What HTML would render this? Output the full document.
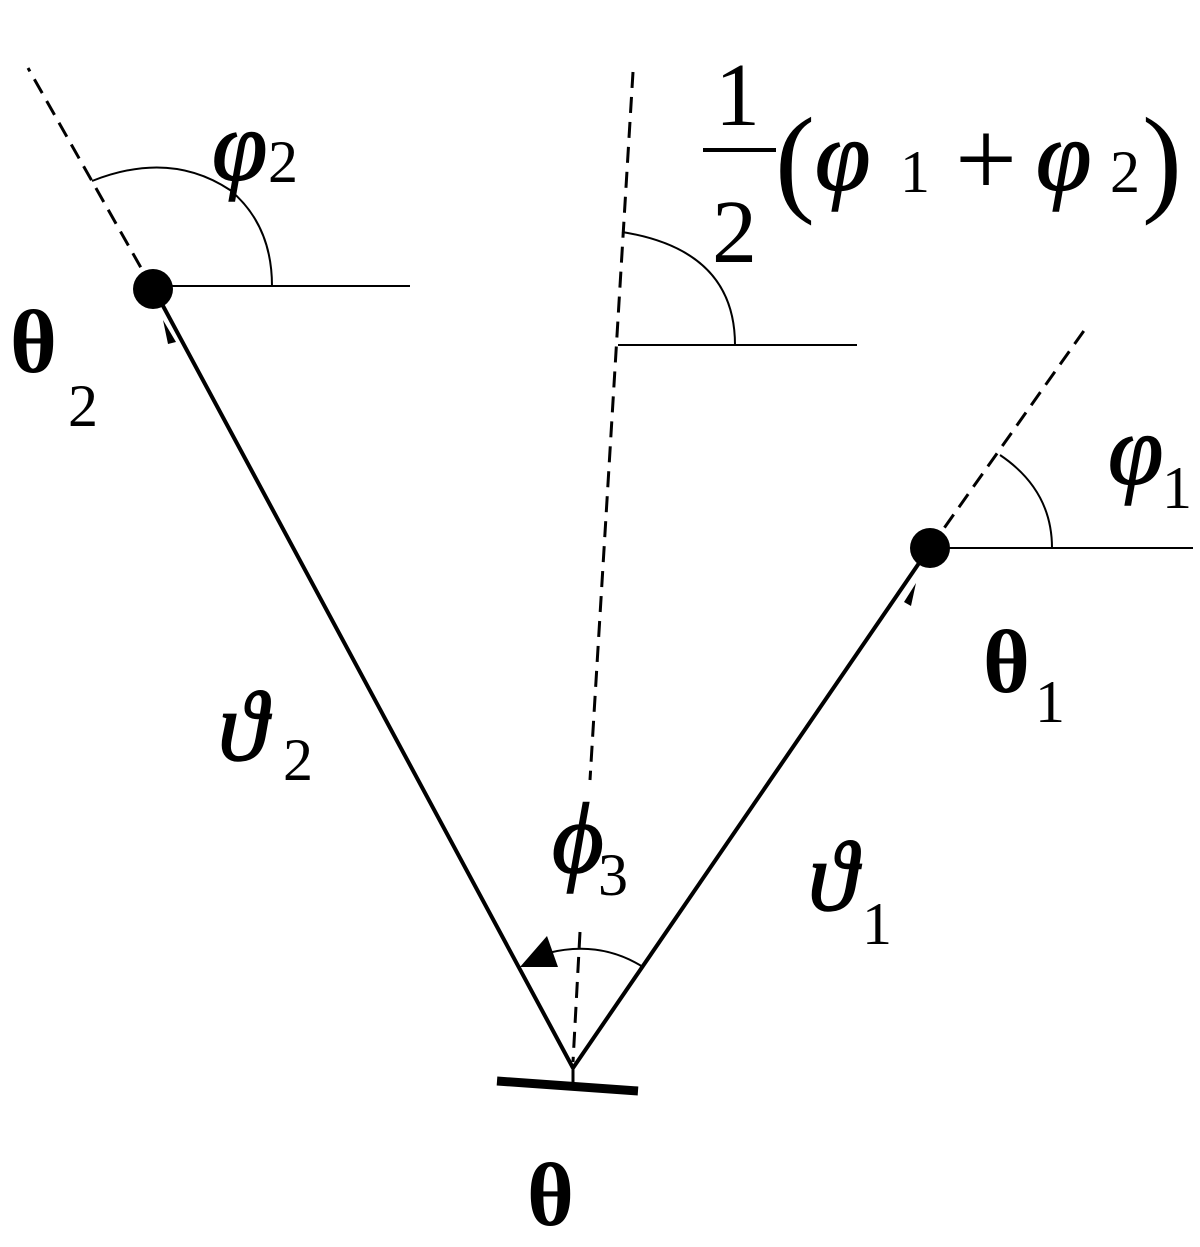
<!DOCTYPE html>
<html><head><style>body{margin:0;background:#fff}svg{display:block}</style></head><body>
<svg width="1200" height="1247" viewBox="0 0 1200 1247" xmlns="http://www.w3.org/2000/svg" font-family="Liberation Serif, serif">
<g stroke="#000" fill="none">
<line x1="573" y1="1068" x2="155" y2="291" stroke-width="4"/>
<line x1="573" y1="1068" x2="928" y2="550" stroke-width="4"/>
<line x1="153" y1="289" x2="28" y2="68" stroke-width="3" stroke-dasharray="16,9"/>
<line x1="930" y1="548" x2="1088" y2="325" stroke-width="3" stroke-dasharray="16,9"/>
<line x1="633" y1="72" x2="590" y2="780" stroke-width="3" stroke-dasharray="16,9"/>
<line x1="580" y1="932" x2="573" y2="1062" stroke-width="3" stroke-dasharray="16,9"/>
<line x1="573" y1="1068" x2="573" y2="1082" stroke-width="3"/>
<line x1="497" y1="1081" x2="638" y2="1091" stroke-width="9"/>
<line x1="153" y1="286" x2="410" y2="286" stroke-width="2"/>
<line x1="618" y1="345" x2="857" y2="345" stroke-width="2"/>
<line x1="930" y1="548" x2="1193" y2="548" stroke-width="2"/>
<path d="M92,181 Q170,150 230,190 Q272,225 272,286" stroke-width="2"/>
<path d="M622,232 Q735,250 735,345" stroke-width="2"/>
<path d="M1000,455 Q1052,490 1052,548" stroke-width="2"/>
<path d="M548,953 Q600,940 643,967" stroke-width="2"/>
</g>
<circle cx="153" cy="289" r="20"/>
<circle cx="930" cy="548" r="20"/>
<polygon points="520,967 547,936 558,967"/>
<polygon points="163,320 176,342 168,344"/>
<polygon points="916,583 904,602 911,606"/>
<g font-style="italic" font-size="100" stroke="#000" stroke-width="1.5">
<text x="212" y="180">φ</text>
<text x="1108" y="484">φ</text>
<text x="218" y="760">ϑ</text>
<text x="808" y="910">ϑ</text>
<text x="552" y="872">ϕ</text>
<text x="815" y="190">φ</text>
<text x="1036" y="190">φ</text>
</g>
<g font-size="60">
<text x="268" y="182">2</text>
<text x="1162" y="508">1</text>
<text x="283" y="780">2</text>
<text x="862" y="944">1</text>
<text x="598" y="895">3</text>
<text x="900" y="192">1</text>
<text x="1110" y="192">2</text>
<text x="68" y="426">2</text>
<text x="1035" y="722">1</text>
</g>
<g font-size="90">
<text x="715" y="125">1</text>
<text x="712" y="262">2</text>
<text x="955" y="196" font-size="110">+</text>
<text x="10" y="372" font-weight="bold">θ</text>
<text x="983" y="692" font-weight="bold">θ</text>
<text x="527" y="1225" font-weight="bold">θ</text>
</g>
<line x1="703" y1="150" x2="776" y2="150" stroke="#000" stroke-width="4"/>
<text x="775" y="200" font-size="120">(</text>
<text x="1142" y="200" font-size="120">)</text>
</svg>
</body></html>
